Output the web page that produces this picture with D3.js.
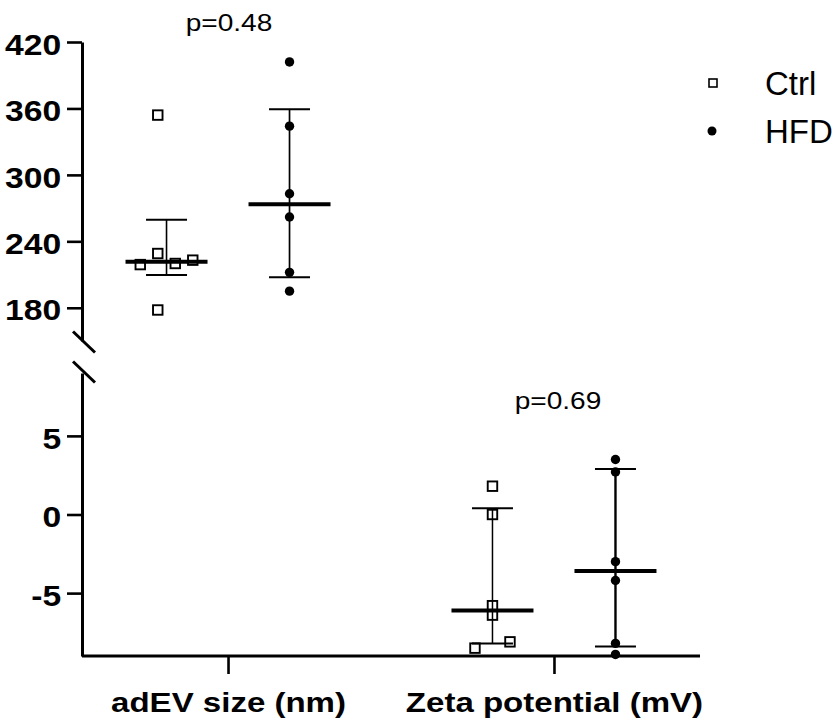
<!DOCTYPE html>
<html>
<head>
<meta charset="utf-8">
<script src="https://cdn.jsdelivr.net/npm/d3@7"></script>
<style>
  body { margin: 0; background: #fff; }
  svg { display: block; font-family: "Liberation Sans", Arial, sans-serif; }
</style>
</head>
<body>
<svg id="chart" width="839" height="725"></svg>
<script>
// categories and groups
var categories = ["adEV size (nm)", "Zeta potential (mV)"];
var groups = ["Ctrl", "HFD"];

// adEV size (nm), one value per animal
var sizeCtrl = [354, 219, 229, 220, 223, 178];
var sizeHFD = [402, 344, 283, 262, 212, 195];
// zeta potential (mV)
var zetaCtrl = [1.8, 0.0, -5.8, -6.4, -8.1, -8.5];
var zetaHFD = [3.5, 2.7, -3.0, -4.2, -8.2, -8.9];

// median and interquartile range, [Ctrl, HFD]
var sizeMedian = [221.5, 273.5];
var sizeQ1 = [209.7, 207.6];
var sizeQ3 = [259.4, 359.3];
var zetaMedian = [-6.1, -3.6];
var zetaQ1 = [-8.2, -8.4];
var zetaQ3 = [0.4, 2.9];

var pLabels = ["p=0.48", "p=0.69"];

// tick labels
var sizeTicks = [180, 240, 300, 360, 420];
var zetaTicks = [-5, 0, 5];

// scatter slots (GraphPad style spreading of overlapping points)
var sizeCtrlSlot = [-0.5, -1.5, -0.5, 0.5, 1.5, -0.5];
var zetaCtrlSlot = [0, 0, 0, 0, 1, -1];
var slotWidth = 17.5;

var svg = d3.select("#chart");
var axisX = 82, baseY = 656;
var stretch = 1.16;   // the bold labels in the figure are drawn wide

var x = d3.scalePoint().domain(categories).range([axisX, 700]).padding(0.448);
var dx = d3.scalePoint().domain(groups).range([-61.5, 61.5]);

var yTop = d3.scaleLinear().domain([150, 420]).range([341, 42]);
var yBot = d3.scaleLinear().domain([-9, 9]).range([baseY, 373]);
var yScales = [yTop, yBot];

// left axes
function leftAxis(scale, ticks) {
  var g = svg.append("g")
      .attr("transform", "translate(" + axisX + ",0)")
      .call(d3.axisLeft(scale).tickValues(ticks).tickSize(15).tickSizeOuter(0)
        .tickFormat(function(d){ return String(d); }));
  g.select(".domain").attr("stroke-width", 3);
  g.selectAll(".tick line").attr("stroke-width", 2.6);
  g.selectAll(".tick text")
      .attr("x", -18).attr("dy", "0.42em")
      .attr("transform", "scale(" + stretch + ",1)")
      .attr("font-size", 29).attr("font-weight", "bold").attr("fill", "#000")
      .attr("font-family", "'Liberation Sans', Arial, sans-serif");
  return g;
}
leftAxis(yTop, sizeTicks);
leftAxis(yBot, zetaTicks);

// axis break marks
[yTop.range()[0], yBot.range()[1]].forEach(function(yy, i) {
  var c = i === 0 ? yy + 1 : yy - 1;
  svg.append("line")
      .attr("x1", axisX - 9).attr("y1", c - 10.5)
      .attr("x2", axisX + 13).attr("y2", c + 10.5)
      .attr("stroke", "#000").attr("stroke-width", 3);
});

// bottom axis
var gx = svg.append("g")
    .attr("transform", "translate(0," + baseY + ")")
    .call(d3.axisBottom(x).tickSize(18).tickSizeOuter(0));
gx.select(".domain").attr("stroke-width", 3).attr("d", "M" + axisX + ",0H700");
gx.selectAll(".tick line").attr("stroke-width", 2.6);
gx.selectAll(".tick text")
    .attr("y", 56).attr("dy", 0)
    .attr("transform", "scale(" + (stretch + 0.02) + ",1)")
    .attr("font-size", 28).attr("font-weight", "bold").attr("fill", "#000")
    .attr("font-family", "'Liberation Sans', Arial, sans-serif");

// one column of points + median with IQR
function column(cat, grp, values, slots, median, q1, q3, scale, barWidth) {
  var cx = x(cat) + dx(grp);
  var g = svg.append("g");
  g.append("line")
      .attr("x1", cx).attr("x2", cx).attr("y1", scale(q1)).attr("y2", scale(q3))
      .attr("stroke", "#000").attr("stroke-width", barWidth);
  [q1, q3].forEach(function(v) {
    g.append("line")
        .attr("x1", cx - 20.5).attr("x2", cx + 20.5)
        .attr("y1", scale(v)).attr("y2", scale(v))
        .attr("stroke", "#000").attr("stroke-width", 2);
  });
  g.append("line")
      .attr("x1", cx - 41).attr("x2", cx + 41)
      .attr("y1", scale(median)).attr("y2", scale(median))
      .attr("stroke", "#000").attr("stroke-width", 4);

  if (grp === "Ctrl") {
    g.selectAll("rect.pt").data(values).enter().append("rect")
        .attr("class", "pt")
        .attr("x", function(d, i){ return cx + (slots ? slots[i] : 0) * slotWidth - 4.75; })
        .attr("y", function(d){ return scale(d) - 4.75; })
        .attr("width", 9.5).attr("height", 9.5)
        .attr("fill", "none").attr("stroke", "#000").attr("stroke-width", 1.9);
  } else {
    g.selectAll("circle.pt").data(values).enter().append("circle")
        .attr("class", "pt")
        .attr("cx", cx)
        .attr("cy", function(d){ return scale(d); })
        .attr("r", 4.7).attr("fill", "#000");
  }
}

column(categories[0], "Ctrl", sizeCtrl, sizeCtrlSlot, sizeMedian[0], sizeQ1[0], sizeQ3[0], yTop, 1.6);
column(categories[0], "HFD", sizeHFD, null, sizeMedian[1], sizeQ1[1], sizeQ3[1], yTop, 1.7);
column(categories[1], "Ctrl", zetaCtrl, zetaCtrlSlot, zetaMedian[0], zetaQ1[0], zetaQ3[0], yBot, 1.5);
column(categories[1], "HFD", zetaHFD, null, zetaMedian[1], zetaQ1[1], zetaQ3[1], yBot, 2.4);

// p values above each pair
var pY = [430, 6.7];
categories.forEach(function(c, i) {
  svg.append("text")
      .attr("transform", "translate(" + (x(c) + (i ? 4 : 1)) + "," + yScales[i](pY[i]) + ") scale(1.17,1)")
      .attr("text-anchor", "middle")
      .attr("font-size", 24)
      .text(pLabels[i]);
});

// legend
var legend = svg.append("g").attr("transform", "translate(713,0)");
legend.append("rect")
    .attr("x", -4).attr("y", 79).attr("width", 8).attr("height", 8)
    .attr("fill", "none").attr("stroke", "#000").attr("stroke-width", 1.6);
legend.append("circle").attr("cx", -1).attr("cy", 131).attr("r", 4.5).attr("fill", "#000");
legend.selectAll("text").data(groups).enter().append("text")
    .attr("x", 52)
    .attr("y", function(d, i){ return 95 + i * 48; })
    .attr("font-size", 33)
    .text(function(d){ return d; });
</script>
</body>
</html>
